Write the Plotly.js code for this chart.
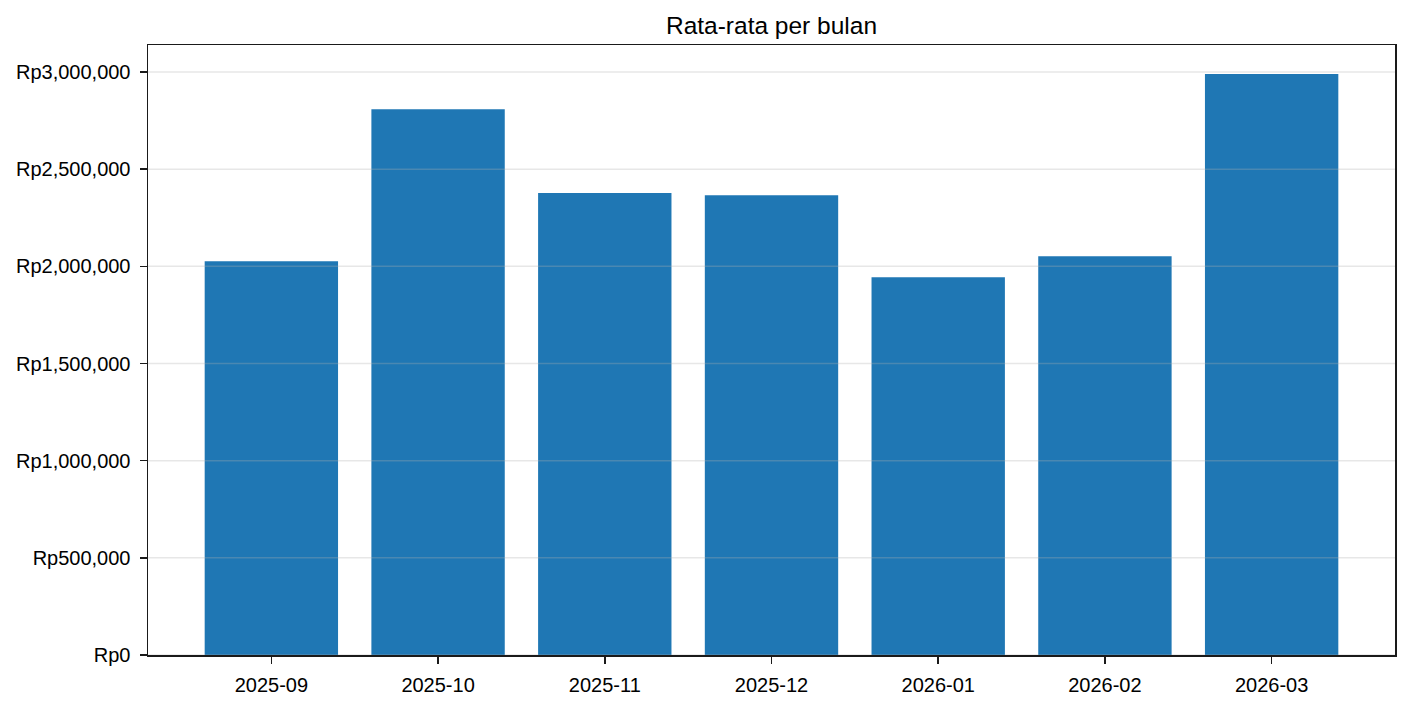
<!DOCTYPE html>
<html>
<head>
<meta charset="utf-8">
<script src="https://cdn.plot.ly/plotly-3.0.1.min.js"></script>
<style>html,body{margin:0;padding:0;background:#fff;}#chart{width:1410px;height:704px;}</style>
</head>
<body>
<div id="chart"></div>
<script>
const months = ["2025-09", "2025-10", "2025-11", "2025-12", "2026-01", "2026-02", "2026-03"];
const averages = [2026800, 2809000, 2377000, 2366500, 1944000, 2052000, 2989600];
const yTicks = [0, 500000, 1000000, 1500000, 2000000, 2500000, 3000000];
const yTickLabels = ["Rp0", "Rp500,000", "Rp1,000,000", "Rp1,500,000", "Rp2,000,000", "Rp2,500,000", "Rp3,000,000"];
const chartTitle = "Rata-rata per bulan";

const yMax = Math.max(...averages) * 1.05;
const nCat = months.length;
const xPad = (nCat - 1 + 0.8) * 0.05;

const gridShapes = yTicks.map(v => ({
  type: 'line', xref: 'paper', yref: 'y', x0: 0, x1: 1, y0: v, y1: v,
  line: {color: 'rgba(176,176,176,0.3)', width: 1.5}, layer: 'above'
}));

const axisCommon = {
  showline: true, mirror: true, linecolor: '#1a1a1a', linewidth: 1.5,
  ticks: 'outside', ticklen: 7, tickwidth: 1.5, tickcolor: '#1a1a1a',
  showgrid: false, zeroline: false,
  tickfont: {family: 'Liberation Sans, Arial, sans-serif', size: 20, color: '#000'}
};

Plotly.newPlot('chart', [{
  type: 'bar',
  x: months,
  y: averages,
  marker: {color: '#1f77b4', line: {width: 0}},
  hoverinfo: 'x+y'
}], {
  width: 1410, height: 704,
  paper_bgcolor: '#fff', plot_bgcolor: '#fff',
  margin: {l: 148, r: 15, t: 45, b: 49},
  bargap: 0.2,
  showlegend: false,
  font: {family: 'Liberation Sans, Arial, sans-serif', color: '#000'},
  title: {
    text: chartTitle,
    font: {family: 'Liberation Sans, Arial, sans-serif', size: 24.5, color: '#000'},
    x: 0.5 + (148 - 15) / 2 / 1410, xanchor: 'center',
    xref: 'container', yref: 'container', y: 1 - 25 / 704, yanchor: 'middle'
  },
  xaxis: Object.assign({}, axisCommon, {
    type: 'category',
    range: [-0.5 - xPad + 0.1, nCat - 0.5 + xPad - 0.1],
    ticklabelstandoff: 4
  }),
  yaxis: Object.assign({}, axisCommon, {
    range: [0, yMax],
    tickmode: 'array',
    tickvals: yTicks,
    ticktext: yTickLabels,
    ticklabelstandoff: 5
  }),
  shapes: gridShapes
}, {displayModeBar: false, staticPlot: true});
</script>
</body>
</html>
